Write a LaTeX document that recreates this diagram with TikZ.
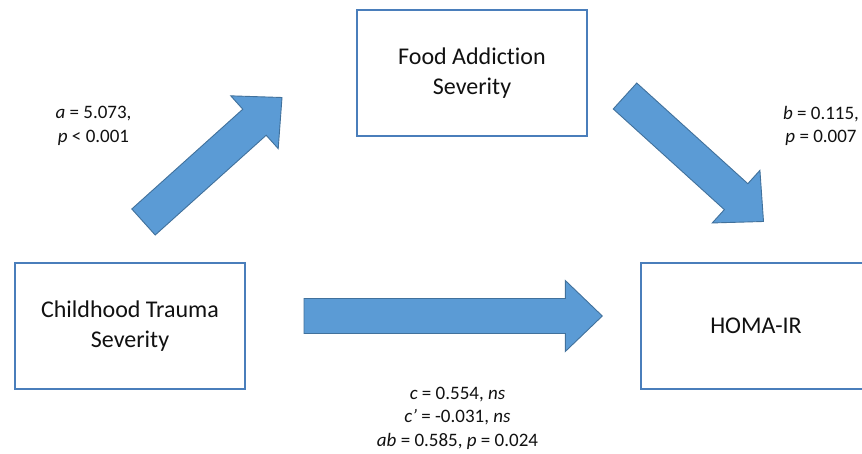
\documentclass[tikz,border=0pt]{standalone}
\usepackage{fontspec}
\setmainfont{Carlito}[Ligatures={NoCommon}]
\usetikzlibrary{calc}
\definecolor{arrowfill}{HTML}{5B9BD5}
\definecolor{arrowline}{HTML}{41719C}
\definecolor{boxline}{HTML}{4A7EBB}
\definecolor{txt}{HTML}{111111}
\newcommand\fatarrowpath[2]{%
  \path ($(#2)!37pt!(#1)$) coordinate (fa-base);
  \draw[fatarrow] ($(#1)!17.5pt!90:(#2)$) -- ($(fa-base)!17.5pt!90:(#2)$)
    -- ($(fa-base)!35.5pt!90:(#2)$) -- (#2)
    -- ($(fa-base)!35.5pt!-90:(#2)$) -- ($(fa-base)!17.5pt!-90:(#2)$)
    -- ($(#1)!17.5pt!-90:(#2)$) -- cycle;
}
\tikzset{
  box/.style={draw=boxline, line width=1.5pt, minimum width=230pt,
    minimum height=126pt, align=center, inner sep=0pt, text=txt,
    font=\fontsize{24}{30}\selectfont},
  lbl/.style={align=center, inner sep=0pt, text=txt,
    font=\fontsize{19}{23.5}\selectfont},
  fatarrow/.style={fill=arrowfill, draw=arrowline, line width=0.9pt, line join=miter}
}
\begin{document}
\begin{tikzpicture}[x=1pt, y=-1pt]
\clip (0,0) rectangle (862,454);
\fill[white] (0,0) rectangle (862,454);

\node[box] (food) at (472,73) {Food Addiction\\Severity};
\node[box] (trauma) at (130,326) {Childhood Trauma\\Severity};
\node[box] (homa) at (756,326) {HOMA-IR};

\coordinate (aTail) at (143.5,222);
\coordinate (aTip) at (282,97.5);
\coordinate (bTail) at (625,96);
\coordinate (bTip) at (763.5,221.5);
\coordinate (cTail) at (304,316);
\coordinate (cTip) at (602.3,316);

\fatarrowpath{aTail}{aTip}
\fatarrowpath{bTail}{bTip}
\fatarrowpath{cTail}{cTip}

\node[lbl] (alab) at (93.5,126) {\textit{a} = 5.073,\\\textit{p} < 0.001};
\node[lbl] (blab) at (821,125.7) {\textit{b} = 0.115,\\\textit{p} = 0.007};
\node[lbl] (clab) at (457.5,418) {\textit{c} = 0.554, \textit{ns}\\\textit{c’} = -0.031, \textit{ns}\\\textit{ab} = 0.585, \textit{p} = 0.024};
\end{tikzpicture}
\end{document}
